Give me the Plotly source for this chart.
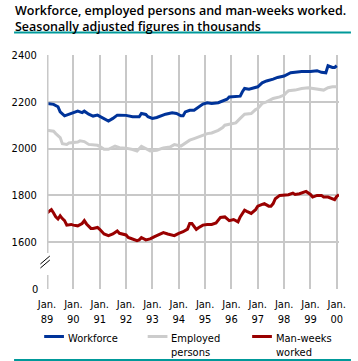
import plotly.graph_objects as go

# month index (0 = Jan 1989)
wf_month = [0, 3, 5, 6, 8, 9, 11, 12, 14, 16, 17, 19, 21, 23, 24, 26, 28, 30, 32, 33,
            36, 39, 42, 43, 45, 46, 48, 50, 52, 54, 57, 59, 61, 62, 63, 65, 67, 69, 71, 73,
            75, 78, 80, 82, 83, 85, 88, 89, 90, 92, 94, 96, 98, 100, 103, 105, 108, 110, 111, 113,
            116, 120, 123, 125, 127, 128, 130, 131, 132]
wf_val = [2193, 2189, 2179, 2157, 2140, 2143, 2150, 2153, 2160, 2154, 2160, 2147, 2139, 2143, 2138, 2131, 2118, 2129, 2143, 2143,
          2142, 2136, 2136, 2150, 2146, 2136, 2129, 2133, 2140, 2147, 2153, 2150, 2140, 2140, 2157, 2164, 2164, 2176, 2190, 2196,
          2193, 2196, 2203, 2211, 2221, 2221, 2224, 2243, 2257, 2254, 2260, 2264, 2281, 2289, 2297, 2304, 2310, 2319, 2324, 2326,
          2329, 2329, 2333, 2326, 2324, 2354, 2347, 2347, 2354]

emp_month = [0, 3, 4, 6, 7, 9, 10, 12, 14, 15, 17, 19, 21, 23, 25, 26, 28, 31, 33,
             36, 39, 41, 43, 45, 47, 50, 53, 56, 58, 61, 63, 65, 67, 69, 71, 73,
             75, 78, 80, 81, 83, 86, 88, 90, 93, 95, 96, 98, 100, 103, 106, 108, 109, 110, 113,
             116, 119, 122, 125, 126, 128, 130, 132]
emp_val = [2078, 2074, 2064, 2047, 2021, 2018, 2024, 2026, 2028, 2033, 2030, 2018, 2017, 2014, 2004, 1997, 1997, 2011, 2004,
           2002, 1996, 1990, 2010, 2000, 1990, 1993, 2003, 2007, 2017, 2011, 2024, 2036, 2043, 2050, 2057, 2064,
           2067, 2078, 2090, 2100, 2104, 2110, 2129, 2147, 2150, 2167, 2171, 2193, 2200, 2214, 2221, 2229, 2239, 2247, 2250,
           2257, 2260, 2257, 2253, 2250, 2260, 2264, 2264]

mw_month = [0, 1, 2, 3, 4, 5, 6, 7, 8, 9, 11, 12, 14, 16, 17, 18, 20, 21, 23, 24, 26, 28, 30, 32, 33,
            36, 37, 38, 41, 42, 43, 45, 47, 49, 51, 53, 55, 58, 60, 62, 64, 65, 66, 68, 69, 71, 73, 75,
            77, 79, 81, 83, 85, 87, 88, 90, 91, 93, 95, 96, 98, 99, 101, 102, 103, 104, 106, 108,
            110, 112, 113, 115, 117, 118, 120, 121, 123, 125, 126, 128, 131, 132, 133]
mw_val = [1725, 1734, 1739, 1725, 1708, 1699, 1713, 1701, 1692, 1673, 1676, 1673, 1670, 1680, 1692, 1678, 1659, 1659, 1663, 1655, 1635, 1628, 1635, 1648, 1638,
          1631, 1620, 1617, 1607, 1610, 1620, 1610, 1614, 1624, 1631, 1641, 1635, 1628, 1638, 1645, 1656, 1680, 1680, 1655, 1662, 1673, 1676, 1676,
          1682, 1706, 1708, 1692, 1697, 1687, 1708, 1737, 1732, 1723, 1739, 1754, 1762, 1765, 1754, 1754, 1765, 1786, 1800, 1800,
          1803, 1810, 1804, 1807, 1814, 1817, 1804, 1793, 1800, 1800, 1793, 1793, 1782, 1796, 1803]

x_tickvals = [0, 12, 24, 36, 48, 60, 72, 84, 96, 108, 120, 132]
x_ticktext = ["Jan.<br>89", "Jan.<br>90", "Jan.<br>91", "Jan.<br>92", "Jan.<br>93", "Jan.<br>94",
              "Jan.<br>95", "Jan.<br>96", "Jan.<br>97", "Jan.<br>98", "Jan.<br>99", "Jan.<br>00"]
y_tickvals = [1600, 1800, 2000, 2200, 2400]
y_ticktext = ["1600", "1800", "2000", "2200", "2400"]

series_names = ["Workforce", "Employed<br>persons", "Man-weeks<br>worked"]
series_colors = ["#003399", "#cccccc", "#990000"]

W, H = 358, 361
L, R, T, B = 35, 12.7, 55, 72
PW, PH = W - L - R, H - T - B
FONT = "DejaVu Sans Condensed, Liberation Sans, Arial, sans-serif"


def px(xpix):
    return (xpix - L) / PW


def py(ypix):
    return (H - B - ypix) / PH


fig = go.Figure()
for mx, vals, col in [(wf_month, wf_val, series_colors[0]),
                      (emp_month, emp_val, series_colors[1]),
                      (mw_month, mw_val, series_colors[2])]:
    fig.add_trace(go.Scatter(x=mx, y=vals, mode="lines",
                             line=dict(color=col, width=3), showlegend=False,
                             hoverinfo="skip"))

shapes = []
# y axis with break
shapes.append(dict(type="line", xref="x", yref="y", x0=0, x1=0, y0=1554, y1=2400,
                   line=dict(color="#c8c8c8", width=3), layer="above"))
shapes.append(dict(type="line", xref="x", yref="y", x0=0, x1=0, y0=1400, y1=1460,
                   line=dict(color="#c8c8c8", width=3), layer="above"))
for dy in (0, 4):
    shapes.append(dict(type="line", xref="paper", yref="paper",
                       x0=px(28), x1=px(38), y0=py(266 + dy - 2), y1=py(258 + dy - 2),
                       line=dict(color="#000000", width=1)))
# teal rules
shapes.append(dict(type="line", xref="paper", yref="paper", x0=px(0), x1=px(358),
                   y0=py(32.5), y1=py(32.5), line=dict(color="#00999a", width=2)))
shapes.append(dict(type="line", xref="paper", yref="paper", x0=px(0), x1=px(358),
                   y0=py(360), y1=py(360), line=dict(color="#00999a", width=2)))

annotations = []
# legend
leg_x = [32, 142, 253]
for i, (nm, col) in enumerate(zip(series_names, series_colors)):
    shapes.append(dict(type="line", xref="paper", yref="paper",
                       x0=px(leg_x[i]), x1=px(leg_x[i] + 21), y0=py(336.5), y1=py(336.5),
                       line=dict(color=col, width=3)))
    annotations.append(dict(text=nm, xref="paper", yref="paper", x=px(leg_x[i] + 23),
                            y=py(330), xanchor="left", yanchor="top", showarrow=False,
                            align="left", font=dict(family=FONT, size=11, color="#000000")))

annotations.append(dict(text="0", xref="paper", yref="y", x=0, y=1400, xanchor="right",
                        yanchor="middle", xshift=-7, showarrow=False,
                        font=dict(family=FONT, size=11, color="#000000")))
annotations.append(dict(text="Workforce, employed persons and man-weeks worked.<br>Seasonally adjusted figures in thousands",
                        xref="paper", yref="paper", x=px(-1), y=py(0), xanchor="left", yanchor="top",
                        showarrow=False, align="left",
                        font=dict(family="Open Sans, DejaVu Sans, sans-serif", size=12.5,
                                  weight=600, color="#000000")))

fig.update_layout(
    width=W, height=H,
    margin=dict(l=L, r=R, t=T, b=B, pad=0),
    paper_bgcolor="white", plot_bgcolor="white",
    showlegend=False,
    shapes=shapes, annotations=annotations,
    xaxis=dict(range=[0, 133], tickvals=x_tickvals, ticktext=x_ticktext,
               showgrid=True, gridcolor="#c8c8c8", gridwidth=2, zeroline=False,
               showline=False, ticks="outside", ticklen=5, tickcolor="rgba(0,0,0,0)",
               tickfont=dict(family=FONT, size=11, color="#000000"), fixedrange=True),
    yaxis=dict(range=[1400, 2400], tickvals=y_tickvals, ticktext=y_ticktext,
               showgrid=True, gridcolor="#c8c8c8", gridwidth=2, zeroline=False,
               showline=False, ticks="outside", ticklen=7, tickcolor="rgba(0,0,0,0)",
               tickfont=dict(family=FONT, size=11, color="#000000"), fixedrange=True),
)

fig.write_html("out.html", config={"displayModeBar": False},
               post_script="document.body.style.margin='0';document.body.style.padding='0';")
